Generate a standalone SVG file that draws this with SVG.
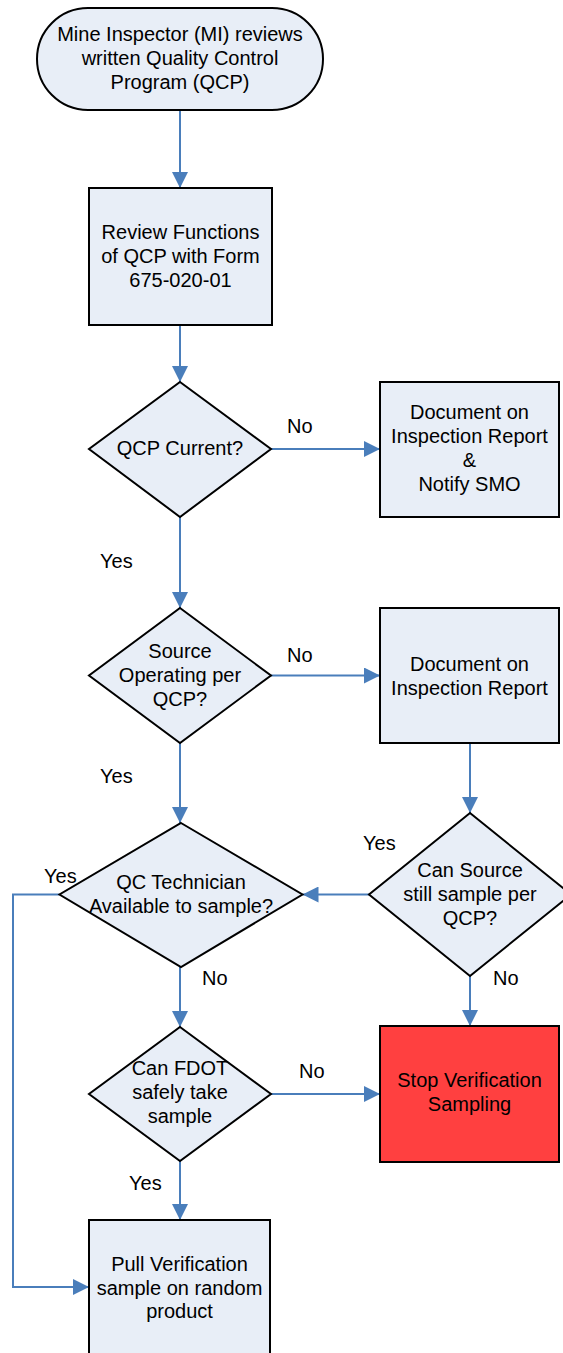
<svg xmlns="http://www.w3.org/2000/svg" width="563" height="1353" viewBox="0 0 563 1353">
<style>
.n{fill:#E8EEF7;stroke:#000;stroke-width:2}
.r{fill:#FF4040;stroke:#000;stroke-width:2}
text{font-family:"Liberation Sans",Arial,sans-serif;font-size:20px;fill:#000}
.c{text-anchor:middle}
.e{fill:none;stroke:#4A7EBB;stroke-width:2;marker-end:url(#a)}
</style>
<defs>
<marker id="a" markerUnits="userSpaceOnUse" markerWidth="16" markerHeight="16" refX="16" refY="8" orient="auto">
<path d="M0,0 L16,8 L0,16 z" fill="#4A7EBB"/>
</marker>
</defs>
<rect width="563" height="1353" fill="#fff"/>
<g id="connectors">
<path class="e" d="M180,110 V188"/>
<path class="e" d="M180,325 V382"/>
<path class="e" d="M271,449 H380"/>
<path class="e" d="M180,517 V608"/>
<path class="e" d="M271,675.5 H380"/>
<path class="e" d="M180,743 V823"/>
<path class="e" d="M470,743 V813"/>
<path class="e" d="M369,894.5 H302.5"/>
<path class="e" d="M59.5,894.5 H13 V1287 H89"/>
<path class="e" d="M180,967 V1027"/>
<path class="e" d="M470,976 V1026"/>
<path class="e" d="M271,1094 H380"/>
<path class="e" d="M180,1161 V1220"/>
</g>
<g id="labels">
<text x="287" y="433">No</text>
<text x="100" y="568">Yes</text>
<text x="287" y="662">No</text>
<text x="100" y="783">Yes</text>
<text x="363" y="850">Yes</text>
<text x="44" y="883">Yes</text>
<text x="202" y="985">No</text>
<text x="493" y="985">No</text>
<text x="299" y="1078">No</text>
<text x="129" y="1190">Yes</text>
</g>
<g id="start">
<rect class="n" x="37" y="8" width="286" height="102" rx="51" ry="51"/>
<text class="c" x="180" y="41">Mine Inspector (MI) reviews</text>
<text class="c" x="180" y="65">written Quality Control</text>
<text class="c" x="180" y="89">Program (QCP)</text>
</g>
<g id="review">
<rect class="n" x="89" y="188" width="183" height="137"/>
<text class="c" x="180.5" y="239">Review Functions</text>
<text class="c" x="180.5" y="263">of QCP with Form</text>
<text class="c" x="180.5" y="287">675-020-01</text>
</g>
<g id="qcpCurrent">
<polygon class="n" points="180,382 271,449 180,517 89,449"/>
<text class="c" x="180" y="455">QCP Current?</text>
</g>
<g id="docNotify">
<rect class="n" x="380" y="382" width="179" height="135"/>
<text class="c" x="469.5" y="419">Document on</text>
<text class="c" x="469.5" y="443">Inspection Report</text>
<text class="c" x="469.5" y="467">&amp;</text>
<text class="c" x="469.5" y="491">Notify SMO</text>
</g>
<g id="sourceOperating">
<polygon class="n" points="180,608 271,675.5 180,743 89,675.5"/>
<text class="c" x="180" y="658">Source</text>
<text class="c" x="180" y="682">Operating per</text>
<text class="c" x="180" y="706">QCP?</text>
</g>
<g id="docReport">
<rect class="n" x="380" y="608" width="179" height="135"/>
<text class="c" x="469.5" y="671">Document on</text>
<text class="c" x="469.5" y="695">Inspection Report</text>
</g>
<g id="qcTech">
<polygon class="n" points="181,823 302.5,894.5 181,967 59.5,894.5"/>
<text class="c" x="181" y="889">QC Technician</text>
<text class="c" x="181" y="913">Available to sample?</text>
</g>
<g id="canSource">
<polygon class="n" points="470,813 571,894.5 470,976 369,894.5"/>
<text class="c" x="470" y="877">Can Source</text>
<text class="c" x="470" y="901">still sample per</text>
<text class="c" x="470" y="925">QCP?</text>
</g>
<g id="stop">
<rect class="r" x="380" y="1026" width="179" height="136"/>
<text class="c" x="469.5" y="1087">Stop Verification</text>
<text class="c" x="469.5" y="1111">Sampling</text>
</g>
<g id="canFdot">
<polygon class="n" points="180,1027 271,1094 180,1161 89,1094"/>
<text class="c" x="180" y="1075">Can FDOT</text>
<text class="c" x="180" y="1099">safely take</text>
<text class="c" x="180" y="1123">sample</text>
</g>
<g id="pull">
<rect class="n" x="89" y="1220" width="181" height="137"/>
<text class="c" x="179.5" y="1271">Pull Verification</text>
<text class="c" x="179.5" y="1295">sample on random</text>
<text class="c" x="179.5" y="1318">product</text>
</g>
</svg>
